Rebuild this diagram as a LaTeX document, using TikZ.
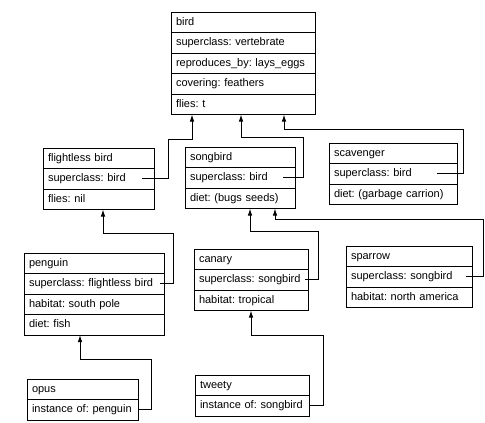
\documentclass[tikz,border=0pt]{standalone}
\usepackage{fontspec}
\setmainfont{Liberation Sans}
\usepackage{tikz}
\usetikzlibrary{arrows.meta}
\tikzset{slot/.style={draw,line width=0.9pt,anchor=north west,inner xsep=5pt,inner ysep=0pt,outer sep=0pt,
    minimum height=20.5pt,text height=8pt,text depth=2.5pt,align=left,text width=#1,
    font=\fontsize{11}{13}\selectfont}}
\tikzstyle{link} = [line width=0.9pt,-{Latex[length=7pt,width=4.5pt]}]

\begin{document}
\frenchspacing
\hyphenpenalty=10000
\begin{tikzpicture}[x=1pt,y=-1pt]
	\useasboundingbox (0,0) rectangle (485,423);
	
	% Frames:
	% each slot is a node hung under the one above it
	\node[slot=134pt] (bird1) at (171,12) {bird};
	\node[slot=134pt] (bird2) at (bird1.south west) {superclass: vertebrate};
	\node[slot=134pt] (bird3) at (bird2.south west) {reproduces\_by: lays\_eggs};
	\node[slot=134pt] (bird4) at (bird3.south west) {covering: feathers};
	\node[slot=134pt] (bird5) at (bird4.south west) {flies: t};
	
	\node[slot=101pt] (fl1) at (43,148) {flightless bird};
	\node[slot=101pt] (fl2) at (fl1.south west) {superclass: bird};
	\node[slot=101pt] (fl3) at (fl2.south west) {flies: nil};
	
	\node[slot=100pt] (sb1) at (185,147) {songbird};
	\node[slot=100pt] (sb2) at (sb1.south west) {superclass: bird};
	\node[slot=100pt] (sb3) at (sb2.south west) {diet: (bugs seeds)};
	
	\node[slot=118pt] (sc1) at (329,143) {scavenger};
	\node[slot=118pt] (sc2) at (sc1.south west) {superclass: bird};
	\node[slot=118pt] (sc3) at (sc2.south west) {diet: (garbage carrion)};
	
	\node[slot=130pt] (pg1) at (24,253) {penguin};
	\node[slot=130pt] (pg2) at (pg1.south west) {superclass: flightless bird};
	\node[slot=130pt] (pg3) at (pg2.south west) {habitat: south pole};
	\node[slot=130pt] (pg4) at (pg3.south west) {diet: fish};
	
	\node[slot=104pt] (cn1) at (194,249) {canary};
	\node[slot=104pt] (cn2) at (cn1.south west) {superclass: songbird};
	\node[slot=104pt] (cn3) at (cn2.south west) {habitat: tropical};
	
	\node[slot=116pt] (sp1) at (346,246) {sparrow};
	\node[slot=116pt] (sp2) at (sp1.south west) {superclass: songbird};
	\node[slot=116pt] (sp3) at (sp2.south west) {habitat: north america};
	
	\node[slot=101pt] (op1) at (27,379) {opus};
	\node[slot=101pt] (op2) at (op1.south west) {instance of: penguin};
	
	\node[slot=104pt] (tw1) at (195,375) {tweety};
	\node[slot=104pt] (tw2) at (tw1.south west) {instance of: songbird};
	
	% Links:
	% from the superclass / instance slot up to the parent frame
	\draw[link] ([xshift=-12pt]fl2.east) -- ++(26,0) -- ++(0,-39) -| ([xshift=21pt]bird5.south west);
	\draw[link] ([xshift=-12pt]sb2.east) -- ++(20,0) -- ++(0,-40) -| ([xshift=70pt]bird5.south west);
	\draw[link] ([xshift=-20pt]sc2.east) -- ++(26,0) -- ++(0,-44) -| ([xshift=113pt]bird5.south west);
	
	\draw[link] ([xshift=-4pt]pg2.east) -- ++(13,0) -- ++(0,-50) -| ([xshift=60pt]fl3.south west);
	\draw[link] ([xshift=-3pt]cn2.east) -- ++(13,0) -- ++(0,-48) -| ([xshift=65pt]sb3.south west);
	\draw[link] ([xshift=-6pt]sp2.east) -- ++(17,0) -- ++(0,-57) -| ([xshift=90pt]sb3.south west);
	
	\draw[link] (op2.east) -- ++(13,0) -- ++(0,-50) -| ([xshift=56pt]pg4.south west);
	\draw[link] (tw2.east) -- ++(14,0) -- ++(0,-70) -| ([xshift=57pt]cn3.south west);
	
\end{tikzpicture}
\end{document}
